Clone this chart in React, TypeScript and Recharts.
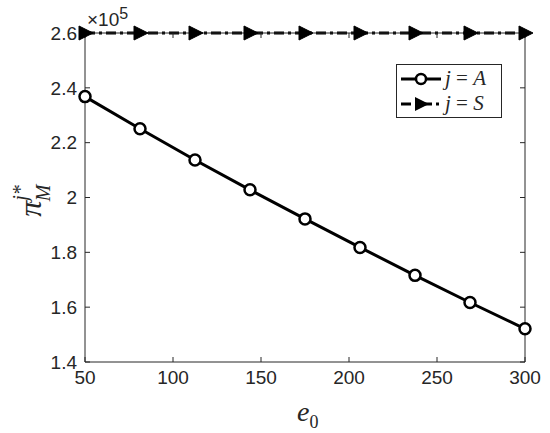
import React from 'react';
import { LineChart, Line, XAxis, YAxis, Legend } from 'recharts';

const e0Values = [50, 81.25, 112.5, 143.75, 175, 206.25, 237.5, 268.75, 300];
const profitA = [2.368, 2.251, 2.137, 2.028, 1.922, 1.818, 1.716, 1.617, 1.521];
const profitS = [2.6, 2.6, 2.6, 2.6, 2.6, 2.6, 2.6, 2.6, 2.6];
const xTicks = [50, 100, 150, 200, 250, 300];
const yTicks = [1.4, 1.6, 1.8, 2.0, 2.2, 2.4, 2.6];

const data = e0Values.map((e, i) => ({ e, A: profitA[i], S: profitS[i] }));

const AXIS = '#262626';
const tickStyle = { fontFamily: '"Liberation Sans", Arial, sans-serif', fontSize: 19, fill: AXIS };

const CircleDot = (props: any) => {
  const { cx, cy } = props;
  return <circle cx={cx} cy={cy} r={5.5} fill="#fff" stroke="#000" strokeWidth={2.5} />;
};

const TriangleDot = (props: any) => {
  const { cx, cy } = props;
  return <path d={`M${cx - 6},${cy - 7} L${cx + 8},${cy} L${cx - 6},${cy + 7} Z`} fill="#000" stroke="#000" strokeWidth={1} />;
};

const YLabel = (props: any) => {
  const vb = props.viewBox || {};
  const cx = 41;
  const cy = vb.y + vb.height / 2 + 3;
  return (
    <text transform={`translate(${cx},${cy}) rotate(-90)`} textAnchor="middle"
      style={{ fontFamily: '"Liberation Serif", "DejaVu Serif", serif', fill: AXIS }}>
      <tspan fontSize={32} fontStyle="italic">π</tspan>
      <tspan fontSize={20} fontStyle="italic" dy={-14}>j</tspan>
      <tspan fontSize={20} dx={1}>*</tspan>
      <tspan fontSize={20} fontStyle="italic" dx={-17} dy={23}>M</tspan>
    </text>
  );
};

const LegendBox = () => (
  <div style={{
    width: 106, height: 54, border: '1.5px solid #262626', background: '#fff',
    fontFamily: '"Liberation Serif", "DejaVu Serif", serif', fontSize: 21, color: AXIS,
    boxSizing: 'border-box', padding: '1px 3px', whiteSpace: 'nowrap',
  }}>
    <div style={{ display: 'flex', alignItems: 'center', height: 25 }}>
      <svg width={42} height={20}>
        <line x1={1} y1={10} x2={41} y2={10} stroke="#000" strokeWidth={3} />
        <circle cx={21} cy={10} r={5} fill="#fff" stroke="#000" strokeWidth={2.5} />
      </svg>
      <span style={{ marginLeft: 3 }}><i>j</i> = <i>A</i></span>
    </div>
    <div style={{ display: 'flex', alignItems: 'center', height: 25 }}>
      <svg width={42} height={20}>
        <line x1={1} y1={10} x2={41} y2={10} stroke="#000" strokeWidth={3} strokeDasharray="10 4 3 4" />
        <path d="M15,3 L29,10 L15,17 Z" fill="#000" />
      </svg>
      <span style={{ marginLeft: 3 }}><i>j</i> = <i>S</i></span>
    </div>
  </div>
);

export default function App() {
  return (
    <div style={{ position: 'absolute', left: 0, top: 0, width: 550, height: 433, background: '#fff' }}>
      <LineChart width={550} height={433} data={data} margin={{ top: 32, right: 24, bottom: 0, left: 0 }}>
        <XAxis dataKey="e" type="number" domain={[50, 300]} ticks={xTicks} xAxisId="b"
          height={71} stroke={AXIS} tick={tickStyle} tickSize={-5} tickMargin={14} />
        <XAxis dataKey="e" type="number" domain={[50, 300]} ticks={xTicks} xAxisId="t"
          orientation="top" height={1} stroke={AXIS} tickFormatter={() => ''} tickSize={-5} />
        <YAxis type="number" domain={[1.4, 2.6]} ticks={yTicks} yAxisId="l" width={85}
          stroke={AXIS} tick={tickStyle} tickSize={-5} tickMargin={13}
          tickFormatter={(v: number) => String(+v.toFixed(1))} label={<YLabel />} />
        <YAxis type="number" domain={[1.4, 2.6]} ticks={yTicks} yAxisId="r" orientation="right"
          width={1} stroke={AXIS} tickFormatter={() => ''} tickSize={-5} />
        <Line xAxisId="t" yAxisId="r" dataKey="S" stroke="none" dot={false} activeDot={false}
          legendType="none" isAnimationActive={false} />
        <Line xAxisId="b" yAxisId="l" dataKey="A" stroke="#000" strokeWidth={3}
          dot={<CircleDot />} isAnimationActive={false} />
        <Line xAxisId="b" yAxisId="l" dataKey="S" stroke="#000" strokeWidth={3}
          strokeDasharray="10 4 3 4" dot={<TriangleDot />} isAnimationActive={false} />
        <Legend layout="vertical" align="center" verticalAlign="middle" content={<LegendBox />}
          wrapperStyle={{ position: 'absolute', left: 396, top: 64, width: 106 }} />
      </LineChart>
      <div style={{ position: 'absolute', left: 87, top: 5, fontFamily: '"Liberation Sans", Arial, sans-serif', fontSize: 19, color: AXIS }}>
        ×10<sup style={{ fontSize: 16, verticalAlign: 7 }}>5</sup>
      </div>
      <div style={{ position: 'absolute', left: 297, top: 396, fontFamily: '"Liberation Serif", "DejaVu Serif", serif', fontSize: 28, color: AXIS }}>
        <i>e</i><sub style={{ fontSize: 18 }}>0</sub>
      </div>
    </div>
  );
}
